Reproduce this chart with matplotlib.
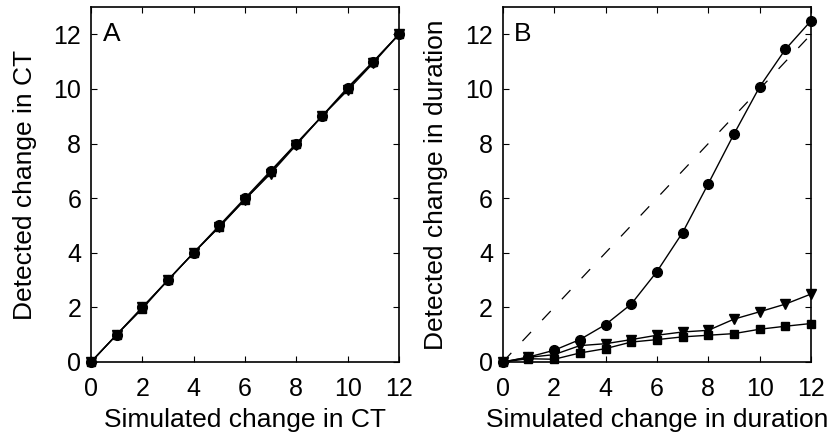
import matplotlib
matplotlib.use("Agg")
import matplotlib.pyplot as plt

plt.rcParams['font.family'] = ['Liberation Sans', 'DejaVu Sans']

x = list(range(13))

# Panel A: detected change in CT
a_circle = [0, 1, 2, 3, 4, 5, 6, 7.0, 8, 9, 10.05, 11, 12]
a_tri    = [0, 1, 2, 3, 4, 4.95, 5.95, 6.9, 7.95, 9, 9.95, 10.95, 12]
a_square = [0, 1, 1.95, 3, 4, 4.95, 5.95, 6.95, 8, 9, 10, 11, 12]

# Panel B: detected change in duration
b_circle = [0, 0.18, 0.43, 0.82, 1.37, 2.12, 3.31, 4.74, 6.53, 8.35, 10.08, 11.45, 12.5]
b_tri    = [0, 0.17, 0.27, 0.6, 0.67, 0.82, 0.98, 1.1, 1.16, 1.57, 1.84, 2.12, 2.49]
b_square = [0, 0.12, 0.1, 0.33, 0.49, 0.73, 0.82, 0.92, 0.98, 1.04, 1.2, 1.31, 1.41]
identity = [0, 12]

ticks = [0, 2, 4, 6, 8, 10, 12]

fig = plt.figure(figsize=(8.31, 4.42), dpi=100)
axA = fig.add_axes([0.1095, 0.181, 0.3705, 0.803])
axB = fig.add_axes([0.605, 0.181, 0.371, 0.803])

for ax, series in ((axA, (a_circle, a_tri, a_square)), (axB, (b_circle, b_tri, b_square))):
    for vals, m in zip(series, ['o', 'v', 's']):
        ax.plot(x, vals, color='black', lw=1, marker=m, markersize=7 if m != 's' else 6,
                markerfacecolor='black', markeredgecolor='black', clip_on=False, zorder=3)

axB.plot(identity, identity, color='black', lw=0.9, linestyle=(0, (10, 13)), zorder=2)

for ax, xl, yl, lab in ((axA, 'Simulated change in CT', 'Detected change in CT', 'A'),
                        (axB, 'Simulated change in duration', 'Detected change in duration', 'B')):
    ax.set_xlim(0, 12)
    ax.set_ylim(0, 13)
    ax.set_xticks(ticks)
    ax.set_yticks(ticks)
    ax.tick_params(direction='in', top=True, right=True, length=4, width=0.8,
                   labelsize=18)
    ax.tick_params(axis='x', pad=11)
    ax.tick_params(axis='y', pad=7)
    ax.set_xlabel(xl, fontsize=19, labelpad=5)
    ax.set_ylabel(yl, fontsize=19, labelpad=12)
    for s in ax.spines.values():
        s.set_linewidth(1.2)
    ax.text(0.45, 12.0, lab, fontsize=19, va='center', ha='left')

fig.savefig('out.png', dpi=100)
